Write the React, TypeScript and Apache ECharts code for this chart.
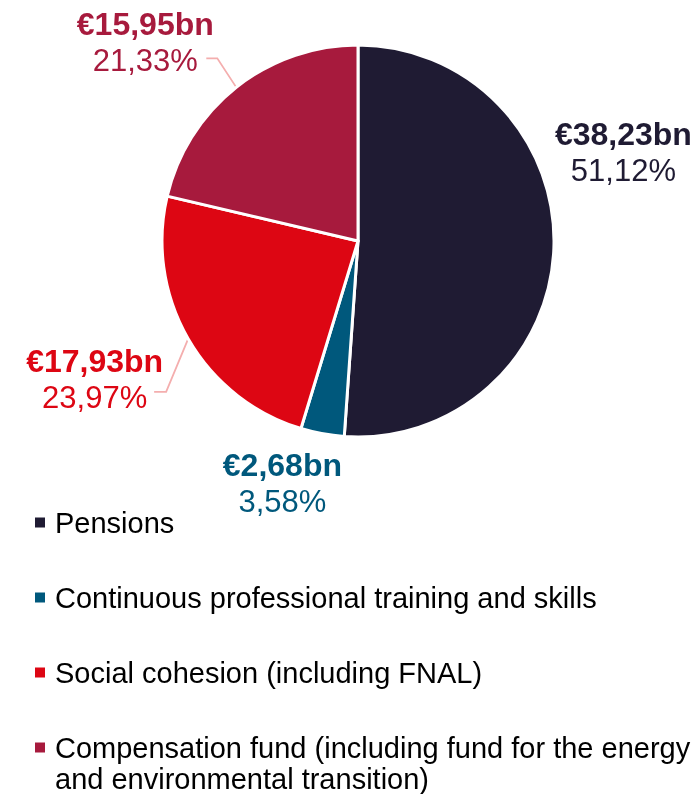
import React, { useEffect, useRef } from "react";
import * as echarts from "echarts";

const CATEGORIES = [
  "Pensions",
  "Continuous professional training and skills",
  "Social cohesion (including FNAL)",
  "Compensation fund (including fund for the energy and environmental transition)",
];
const VALUES = [38.23, 2.68, 17.93, 15.95];
const LEGEND_FIRST_LINES = [
  "Pensions",
  "Continuous professional training and skills",
  "Social cohesion (including FNAL)",
  "Compensation fund (including fund for the energy",
];
const LEGEND_SECOND_LINE = "and environmental transition)";

const COLORS = ["#1f1b33", "#00587c", "#dd0613", "#a71a3d"];
const LINE_COLOR = "#f4aeae";
const FONT = "'Liberation Sans', Arial, sans-serif";

const CENTER = [358, 241];
const RADIUS = 196;

// label block offsets relative to slice edge midpoint
const LABEL_OFFSETS = [
  { dx: 69.5, dy: -96 },
  { dx: -40, dy: 50 },
  { dx: -93.5, dy: 40 },
  { dx: -91, dy: -45 },
];
const LINE_OFFSETS: (number[][] | null)[] = [
  null,
  null,
  [[-22, 53], [-34, 53]],
  [[-19, -29], [-30, -29]],
];

function edgePoint(i: number): [number, number] {
  const total = VALUES.reduce((a, b) => a + b, 0);
  let cum = 0;
  for (let k = 0; k < i; k++) cum += VALUES[k];
  const frac = (cum + VALUES[i] / 2) / total;
  const ang = ((90 - 360 * frac) * Math.PI) / 180;
  return [CENTER[0] + RADIUS * Math.cos(ang), CENTER[1] - RADIUS * Math.sin(ang)];
}

function fmt(n: number) {
  return n.toFixed(2).replace(".", ",");
}

export default function App() {
  const ref = useRef<HTMLDivElement>(null);
  useEffect(() => {
    if (!ref.current) return;
    const chart = echarts.init(ref.current, null, { renderer: "svg" });
    const data = CATEGORIES.map((name, i) => ({
      name,
      value: VALUES[i],
      itemStyle: { color: COLORS[i] },
      label: {
        rich: {
          v: {
            fontFamily: FONT,
            fontSize: 32,
            fontWeight: "bold",
            lineHeight: 36.5,
            color: COLORS[i],
            align: "center",
          },
          p: {
            fontFamily: FONT,
            fontSize: 31,
            lineHeight: 36.5,
            color: COLORS[i],
            align: "center",
          },
        },
      },
      labelLine: { show: LINE_OFFSETS[i] !== null },
    }));
    chart.setOption({
      animation: false,
      legend: {
        orient: "vertical",
        left: 33,
        top: 508,
        padding: 0,
        itemWidth: 20,
        itemHeight: 12,
        itemGap: 46,
        icon: "path://M0,0H10V10H0Z",
        selectedMode: false,
        data: CATEGORIES,
        formatter: (name: string) => LEGEND_FIRST_LINES[CATEGORIES.indexOf(name)],
        textStyle: {
          fontFamily: FONT,
          fontSize: 29,
          lineHeight: 29,
          color: "#000",
        },
      },
      graphic: [
        {
          type: "text",
          x: 55,
          y: 779,
          style: {
            text: LEGEND_SECOND_LINE,
            fontFamily: FONT,
            fontSize: 29,
            lineHeight: 29,
            fill: "#000",
            verticalAlign: "middle",
          },
        },
      ],
      series: [
        {
          type: "pie",
          center: CENTER,
          radius: RADIUS,
          startAngle: 90,
          clockwise: true,
          avoidLabelOverlap: false,
          itemStyle: { borderColor: "#fff", borderWidth: 3 },
          label: {
            show: true,
            position: "outside",
            formatter: (p: any) => `{v|€${fmt(p.value)}bn}\n{p|${fmt(p.percent)}%}`,
          },
          labelLine: {
            show: true,
            lineStyle: { color: LINE_COLOR, width: 1.8 },
          },
          labelLayout: (params: any) => {
            const i = params.dataIndex;
            const [ex, ey] = edgePoint(i);
            const off = LABEL_OFFSETS[i];
            const res: any = {
              x: ex + off.dx,
              y: ey + off.dy,
              align: "center",
              verticalAlign: "middle",
            };
            const lo = LINE_OFFSETS[i];
            if (lo) {
              res.labelLinePoints = [
                [ex, ey],
                [ex + lo[0][0], ey + lo[0][1]],
                [ex + lo[1][0], ey + lo[1][1]],
              ];
            }
            return res;
          },
          data,
        },
      ],
    });
    return () => chart.dispose();
  }, []);
  return (
    <div
      ref={ref}
      style={{ position: "fixed", left: 0, top: 0, width: 700, height: 794 }}
    />
  );
}
